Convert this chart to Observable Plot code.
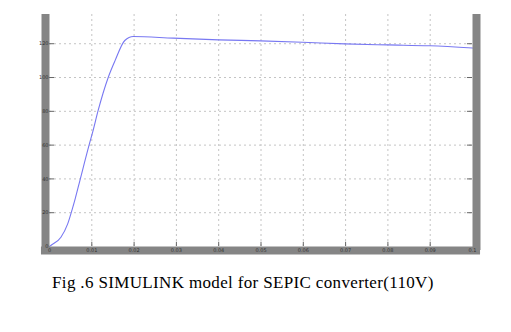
<!DOCTYPE html>
<html>
<head>
<meta charset="utf-8">
<script src="https://cdn.jsdelivr.net/npm/d3@7"></script>
<script src="https://cdn.jsdelivr.net/npm/@observablehq/plot@0.6"></script>
<style>
  body { margin: 0; background: #fff; width: 511px; height: 332px; position: relative; overflow: hidden; }
  #chart { position: absolute; left: 0; top: 0; }
  #caption { position: absolute; left: 52px; top: 273px; font-family: "Liberation Serif", "Times New Roman", serif; font-size: 17px; letter-spacing: 0.35px; color: #000; white-space: nowrap; }
</style>
</head>
<body>
<div id="chart"></div>
<div id="caption">Fig .6 SIMULINK model for SEPIC converter(110V)</div>
<script>
const time = [0, 0.0003, 0.0027, 0.0043, 0.0054, 0.0061, 0.0072, 0.0094, 0.0103, 0.0115, 0.0139, 0.0155, 0.0178, 0.0198, 0.0293, 0.0400, 0.0499, 0.0598, 0.0698, 0.0800, 0.0899, 0.1000];
const voltage = [0, 0.6, 5.5, 13.4, 22.3, 28.5, 39.2, 60.4, 68.6, 80.5, 100.2, 110, 121.9, 124.3, 123.3, 122.3, 121.7, 120.9, 119.9, 119.3, 118.8, 117.5];
const xTicks = [0, 0.01, 0.02, 0.03, 0.04, 0.05, 0.06, 0.07, 0.08, 0.09, 0.1];
const yTicks = [0, 20, 40, 60, 80, 100, 120];

const data = time.map((t, i) => ({t, v: voltage[i]}));
const band = "#858585";

const chart = Plot.plot({
  width: 511,
  height: 260,
  marginLeft: 49,
  marginRight: 39,
  marginTop: 14,
  marginBottom: 14,
  x: {domain: [0, 0.1]},
  y: {domain: [0, 137.3]},
  style: {background: "#fff", fontFamily: "DejaVu Sans, sans-serif"},
  marks: [
    Plot.ruleX(xTicks.slice(1, -1), {stroke: "#c4c4c4", strokeDasharray: "2,3", strokeWidth: 1}),
    Plot.ruleY(yTicks.slice(1), {stroke: "#c4c4c4", strokeDasharray: "2,3", strokeWidth: 1}),
    Plot.line(data, {x: "t", y: "v", stroke: "#7878f2", strokeWidth: 1.1, curve: "monotone-x"}),
    Plot.ruleX([0], {y1: -2.4, y2: 137.3, stroke: band, strokeWidth: 8, dx: -4}),
    Plot.ruleX([0.1], {y1: -2.4, y2: 137.3, stroke: band, strokeWidth: 8, dx: 4}),
    Plot.ruleY([0], {x1: -0.0019, x2: 0.1019, stroke: band, strokeWidth: 8, dy: 4}),
    Plot.axisX({ticks: xTicks, tickSize: 0, tickPadding: 2, fontSize: 5, fill: "#333", tickFormat: d => String(d), label: null}),
    Plot.axisY({ticks: yTicks, tickSize: 0, tickPadding: 1, fontSize: 5, fill: "#333", label: null}),
    Plot.ruleX(xTicks.slice(1, -1), {y1: 0, y2: 2.5, stroke: "#666", strokeWidth: 1}),
    Plot.ruleY(yTicks.slice(1), {x1: 0, x2: 0.0012, stroke: "#666", strokeWidth: 1}),
    Plot.ruleY(yTicks.slice(1), {x1: 0.0988, x2: 0.1, stroke: "#666", strokeWidth: 1})
  ]
});
document.getElementById("chart").appendChild(chart);
</script>
</body>
</html>
